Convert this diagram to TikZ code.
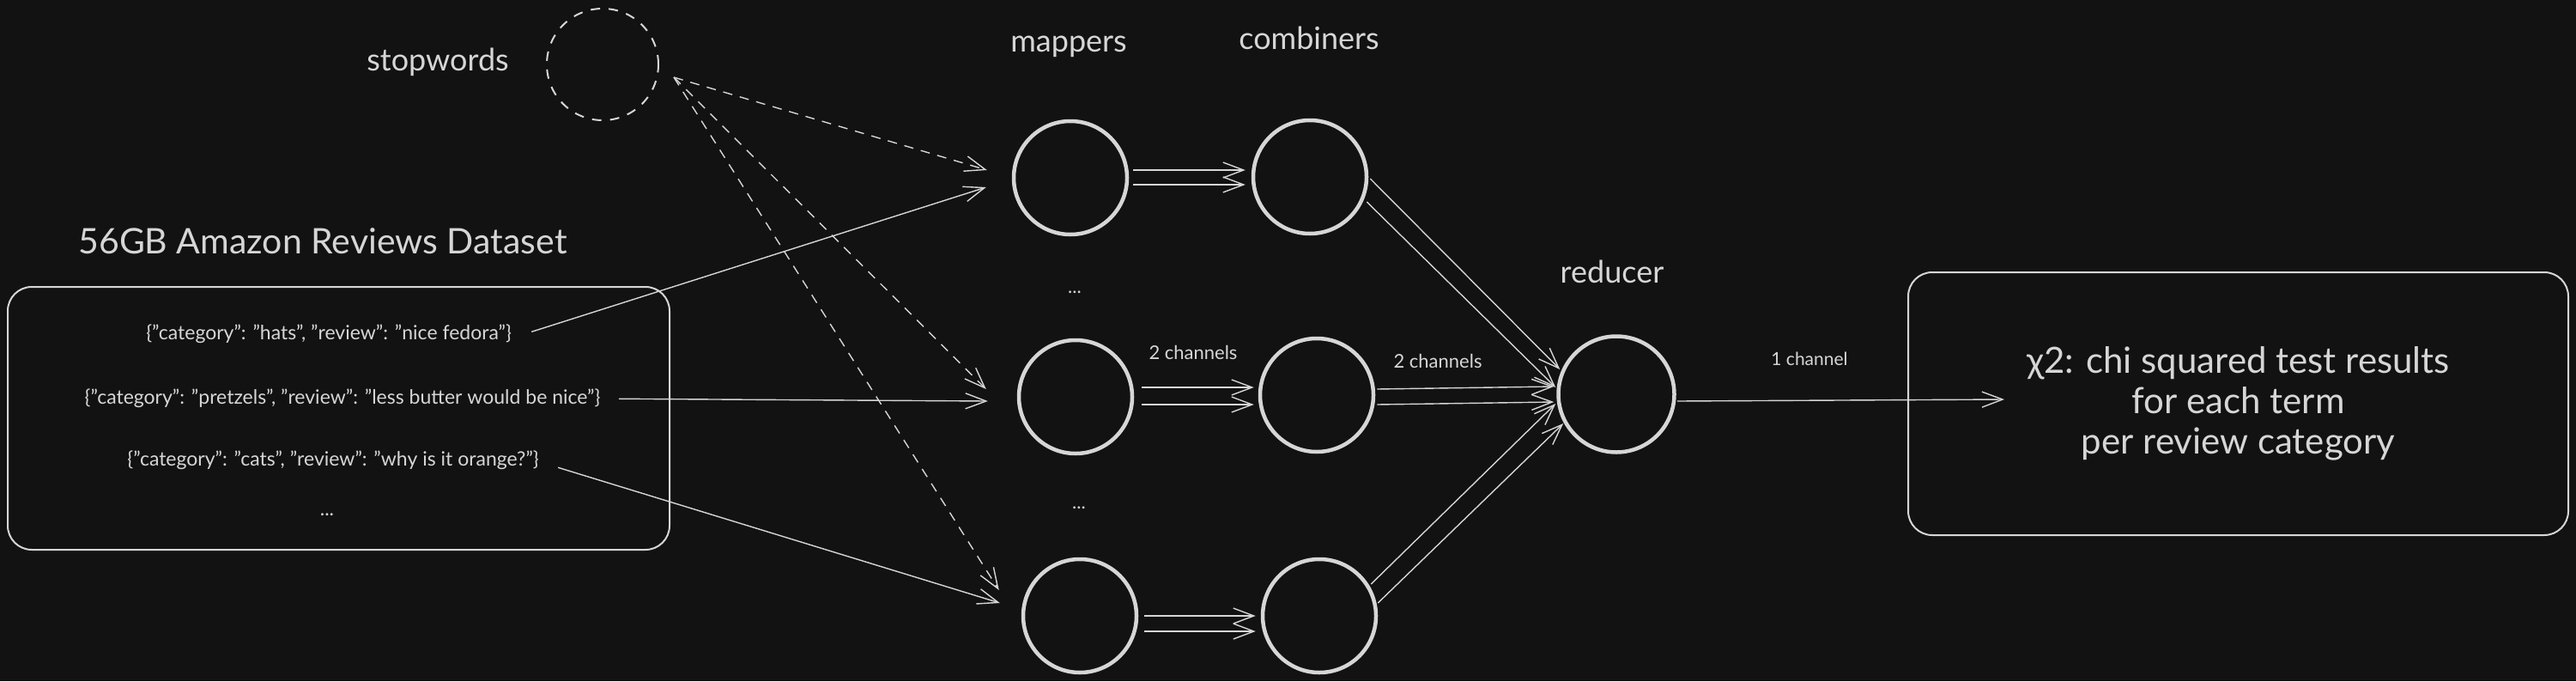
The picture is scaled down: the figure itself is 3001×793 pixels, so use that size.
\documentclass[tikz,border=0pt]{standalone}
\usepackage{fontspec}
\setmainfont{Lato}
\usetikzlibrary{arrows.meta,calc}
\definecolor{bg}{HTML}{121212}
\definecolor{ink}{HTML}{D6D6D6}
\begin{document}
\begin{tikzpicture}[x=1pt,y=-1pt,
  every node/.style={text=ink},
  hcircle/.style={circle, draw=ink, line width=4.5pt, inner sep=0pt, minimum size=132pt},
  dcircle/.style={circle, draw=ink, line width=2pt, dash pattern=on 11pt off 10pt, inner sep=0pt, minimum size=130pt},
  rbox/.style={draw=ink, line width=2pt, rounded corners=28pt, inner sep=0pt},
  conn/.style={draw=ink, line width=1.4pt, -{Straight Barb[length=24pt,width=18pt,line width=1.4pt]}},
  dconn/.style={conn, dash pattern=on 11pt off 9pt},
  biglbl/.style={anchor=base, font=\fontsize{36}{40}\selectfont},
  titlelbl/.style={anchor=base, font=\fontsize{41}{46}\selectfont},
  jsonlbl/.style={anchor=base, font=\fontsize{23}{26}\selectfont},
  chlbl/.style={anchor=base, font=\fontsize{22}{26}\selectfont},
]
\fill[bg] (0,0) rectangle (3001,793);
\useasboundingbox (0,0) rectangle (3001,793);

% labels
\node[biglbl] (swlbl) at (510,82) {stopwords};
\node[biglbl] (mlbl) at (1245,60) {mappers};
\node[biglbl] (clbl) at (1525,57) {combiners};
\node[biglbl] (rlbl) at (1878,329) {reducer};
\node[titlelbl] (dstitle) at (376,295) {56GB Amazon Reviews Dataset};

% stopwords
\node[dcircle] (sw) at (702,75) {};

% dataset box
\node[rbox, minimum width=771pt, minimum height=306pt] (ds) at (394.5,487) {};
\node[jsonlbl] (j1) at (383,395) {\{"category": "hats", "review": "nice fedora"\}};
\node[jsonlbl] (j2) at (399,470) {\{"category": "pretzels", "review": "less butter would be nice"\}};
\node[jsonlbl] (j3) at (388,542) {\{"category": "cats", "review": "why is it orange?"\}};
\node[jsonlbl] (jd) at (381,600) {...};

% mappers, combiners, reducer
\node[hcircle] (m1) at (1247,207) {};
\node[hcircle] (m2) at (1253,462) {};
\node[hcircle] (m3) at (1258,717) {};
\node[hcircle] (c1) at (1526,206) {};
\node[hcircle] (c2) at (1534,460) {};
\node[hcircle] (c3) at (1537,717) {};
\node[hcircle, minimum size=135pt] (r) at (1883,459) {};

\node[chlbl] (md1) at (1252,341) {...};
\node[chlbl] (md2) at (1257,592) {...};
\node[chlbl] (ch1) at (1390,418) {2 channels};
\node[chlbl] (ch2) at (1675,428) {2 channels};
\node[chlbl, font=\fontsize{21}{24}\selectfont] (ch3) at (2108,425) {1 channel};

% result box
\node[rbox, minimum width=769pt, minimum height=306pt, align=center,
      font=\fontsize{42}{47}\selectfont] (res) at (2607.5,470)
      {χ2: chi squared test results\\for each term\\per review category};

% dataset -> mappers
\draw[conn] ($(j1.east)+(20,-2)$) -- ($(m1.west)+(-30,11)$);
\draw[conn] ($(j2.east)+(18,1)$) -- ($(m2.west)+(-34,5)$);
\draw[conn] ($(j3.east)+(19,9)$) -- ($(m3.west)+(-25,-15)$);

% stopwords -> mappers
\draw[dconn] ($(sw.east)+(17,15)$) -- ($(m1.west)+(-29,-9)$);
\draw[dconn] ($(sw.east)+(17,15)$) -- ($(m2.west)+(-36,-9)$);
\draw[dconn] ($(sw.east)+(17,15)$) -- ($(m3.west)+(-26,-30)$);

% mappers -> combiners
\draw[conn] ($(m1.east)+(5,-9)$) -- ($(c1.west)+(-7,-8)$);
\draw[conn] ($(m1.east)+(5,8)$) -- ($(c1.west)+(-7,9)$);
\draw[conn] ($(m2.east)+(9,-11)$) -- ($(c2.west)+(-5,-9)$);
\draw[conn] ($(m2.east)+(9,9)$) -- ($(c2.west)+(-5,11)$);
\draw[conn] ($(m3.east)+(7,0)$) -- ($(c3.west)+(-6,0)$);
\draw[conn] ($(m3.east)+(7,18)$) -- ($(c3.west)+(-6,18)$);

% combiners -> reducer
\draw[conn] ($(c1.east)+(2,2)$) -- ($(r.west)+(4,-29)$);
\draw[conn] ($(c1.east)+(-2,29)$) -- ($(r.west)+(-1,-8)$);
\draw[conn] ($(c2.east)+(2,-7)$) -- ($(r.west)+(-3,-9)$);
\draw[conn] ($(c2.east)+(2,11)$) -- ($(r.west)+(-3,9)$);
\draw[conn] ($(c3.east)+(-8,-37)$) -- ($(r.west)+(-1,11)$);
\draw[conn] ($(c3.east)+(0,-15)$) -- ($(r.west)+(8,34)$);

% reducer -> result
\draw[conn] ($(r.east)+(1,8)$) -- ($(res.west)+(113,-5)$);
\end{tikzpicture}
\end{document}
